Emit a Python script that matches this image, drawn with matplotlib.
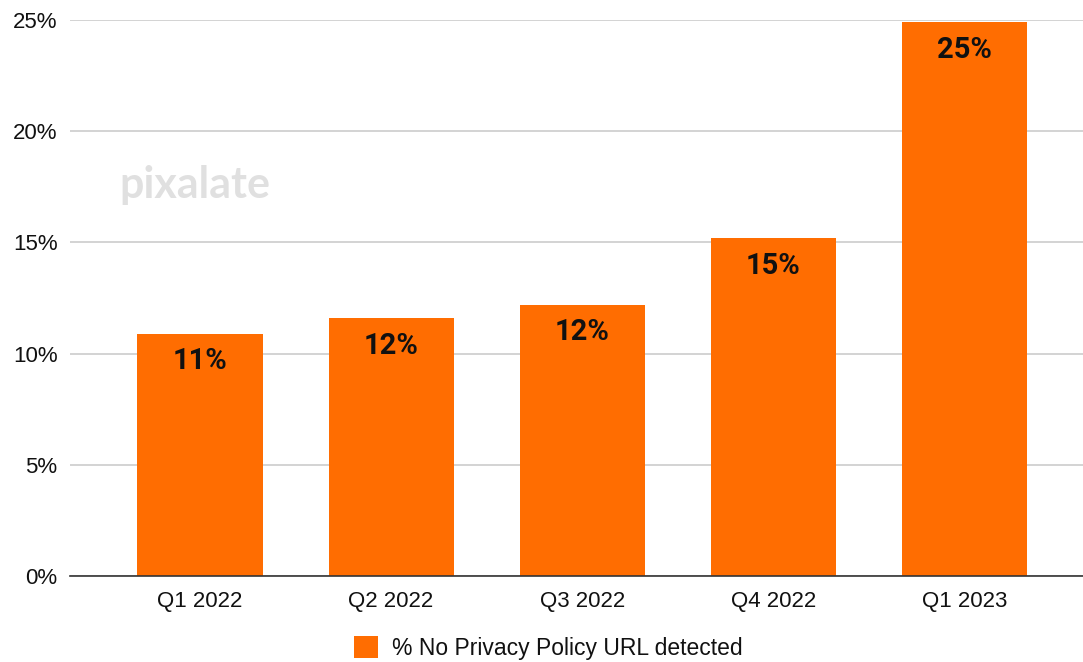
import matplotlib.pyplot as plt
from matplotlib.ticker import FuncFormatter

quarters = ["Q1 2022", "Q2 2022", "Q3 2022", "Q4 2022", "Q1 2023"]
no_privacy_pct = [10.9, 11.6, 12.2, 15.2, 24.9]
series_name = "% No Privacy Policy URL detected"
yticks = [0, 5, 10, 15, 20, 25]

orange = "#ff6d01"
plt.rcParams["font.family"] = ["Liberation Sans", "DejaVu Sans"]

fig = plt.figure(figsize=(10.83, 6.62), dpi=100)
ax = fig.add_axes([70 / 1083, 1 - 576 / 662, 1 - 70 / 1083, (576 - 20) / 662])

x = range(len(quarters))
bars = ax.bar(x, no_privacy_pct, width=0.655, color=orange, zorder=3, label=series_name)

# value labels inside the top of each bar
for b, v in zip(bars, no_privacy_pct):
    ax.annotate(f"{v:.0f}%", (b.get_x() + b.get_width() / 2, b.get_height()),
                xytext=(0, -20), textcoords="offset points", ha="center", va="center",
                fontsize=21, fontweight="bold", family="Roboto", color="#111111", zorder=4)

ax.set_xlim(-0.68, 4.62)
ax.set_ylim(0, 25)
ax.set_yticks(yticks)
ax.yaxis.set_major_formatter(FuncFormatter(lambda v, _: f"{v:.0f}%"))
ax.set_xticks(list(x))
ax.set_xticklabels(quarters)
ax.tick_params(axis="both", length=0, labelsize=16, colors="#111111")
ax.tick_params(axis="x", pad=11)
ax.tick_params(axis="y", pad=9)
ax.grid(axis="y", color="#cccccc", linewidth=1.2, zorder=0)
for s in ["top", "right", "left"]:
    ax.spines[s].set_visible(False)
ax.spines["bottom"].set_color("#333333")
ax.spines["bottom"].set_linewidth(1.2)
ax.spines["bottom"].set_zorder(5)

# watermark
fig.text(195 / 1083, 1 - 185 / 662, "pixalate", ha="center", va="center",
         fontsize=31, family="Lato", fontweight="bold", color="#e0e0e0")

fig.legend(handles=[bars], labels=[series_name], loc="center",
           bbox_to_anchor=(548 / 1083, 1 - 648 / 662), frameon=False,
           fontsize=16.5, handlelength=1.05, handleheight=1.05, handletextpad=0.6,
           labelcolor="#111111")

fig.savefig("out.png", dpi=100)
